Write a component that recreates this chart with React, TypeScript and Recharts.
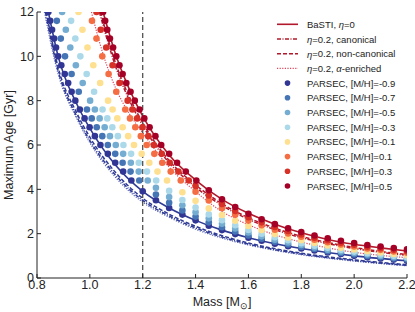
import React from 'react';
import { ComposedChart, Line, Scatter, XAxis, YAxis, ReferenceLine, Label } from 'recharts';

const FONT = '"Liberation Sans", Arial, sans-serif';

// axis ticks
const massTicks = [0.8, 1.0, 1.2, 1.4, 1.6, 1.8, 2.0, 2.2];
const ageTicks = [0, 2, 4, 6, 8, 10, 12];

// BaSTI tracks, [mass, max age]
const bastiPoorEta0 = [[0.843, 12], [0.88, 10.0], [0.95, 7.86], [1.0, 6.75], [1.1, 5.05], [1.2, 3.91], [1.3, 3.16], [1.4, 2.6], [1.5, 2.16], [1.6, 1.82], [1.8, 1.33], [2.0, 1.0], [2.2, 0.78]];
const bastiPoorCanonical = [[0.832, 12], [0.88, 9.35], [0.95, 7.3], [1.0, 6.2], [1.1, 4.6], [1.2, 3.5], [1.3, 2.8], [1.4, 2.26], [1.5, 1.85], [1.6, 1.53], [1.8, 1.08], [2.0, 0.79], [2.2, 0.57]];
const bastiPoorNonCanonical = [[0.835, 12], [0.88, 9.5], [0.95, 7.45], [1.0, 6.35], [1.1, 4.72], [1.2, 3.6], [1.3, 2.88], [1.4, 2.33], [1.5, 1.91], [1.6, 1.58], [1.8, 1.12], [2.0, 0.82], [2.2, 0.6]];
const bastiPoorAlpha = [[0.828, 12], [0.88, 9.2], [0.95, 7.2], [1.0, 6.1], [1.1, 4.5], [1.2, 3.42], [1.3, 2.74], [1.4, 2.2], [1.5, 1.8], [1.6, 1.49], [1.8, 1.05], [2.0, 0.76], [2.2, 0.55]];
const bastiRichEta0 = [[1.05, 12], [1.1, 10.0], [1.15, 8.5], [1.2, 7.3], [1.3, 5.55], [1.4, 4.42], [1.5, 3.55], [1.6, 2.92], [1.7, 2.43], [1.8, 2.04], [1.9, 1.74], [2.0, 1.52], [2.1, 1.36], [2.2, 1.22]];
const bastiRichCanonical = [[1.036, 12], [1.1, 9.45], [1.15, 8.0], [1.2, 6.88], [1.3, 5.2], [1.4, 4.1], [1.5, 3.27], [1.6, 2.65], [1.7, 2.18], [1.8, 1.82], [1.9, 1.55], [2.0, 1.33], [2.1, 1.16], [2.2, 1.02]];
const bastiRichNonCanonical = [[1.04, 12], [1.1, 9.6], [1.15, 8.15], [1.2, 7.0], [1.3, 5.3], [1.4, 4.2], [1.5, 3.35], [1.6, 2.72], [1.7, 2.25], [1.8, 1.88], [1.9, 1.6], [2.0, 1.38], [2.1, 1.2], [2.2, 1.06]];
const bastiRichAlpha = [[1.006, 12], [1.05, 10.1], [1.1, 8.5], [1.15, 7.4], [1.2, 6.55], [1.3, 5.0], [1.4, 3.9], [1.5, 3.0], [1.6, 2.4], [1.7, 1.95], [1.8, 1.62], [1.9, 1.36], [2.0, 1.16], [2.1, 1.02], [2.2, 0.92]];

// PARSEC: upper part sits on age rows, lower part on mass columns (null = no dot)
const ageRows = [12.0, 11.6, 11.2, 10.8, 10.4, 10.0, 9.6, 9.2, 8.8, 8.4, 8.0, 7.6, 7.2, 6.8, 6.4, 6.0, 5.6, 5.2, 4.8, 4.4];
const massRowsM09 = [0.843, 0.850, 0.857, 0.865, 0.872, 0.880, 0.892, 0.905, 0.918, 0.931, 0.945, 0.962, 0.980, 0.999, 1.019, 1.040, 1.068, 1.096, 1.126, 1.157];
const massRowsM07 = [null, 0.875, null, 0.890, null, 0.906, null, 0.931, null, 0.958, null, 0.989, 1.007, 1.026, 1.047, 1.068, 1.096, 1.124, 1.154, 1.187];
const massRowsM05 = [0.895, null, 0.909, null, 0.926, null, 0.947, null, 0.973, null, 1.001, 1.019, 1.037, 1.056, 1.076, 1.098, 1.126, 1.155, 1.185, 1.219];
const massRowsM03 = [null, 0.929, null, 0.945, null, 0.964, null, 0.988, null, 1.016, null, 1.048, 1.066, 1.085, 1.106, 1.127, 1.156, 1.185, 1.216, 1.251];
const massRowsM01 = [0.957, null, 0.972, null, 0.991, null, 1.013, null, 1.039, null, 1.069, 1.086, 1.104, 1.124, 1.145, 1.167, 1.196, 1.225, 1.256, 1.292];
const massRowsP01 = [null, 1.008, null, 1.025, null, 1.047, null, 1.071, null, 1.100, null, 1.134, 1.152, 1.172, 1.193, 1.215, 1.244, 1.274, 1.306, 1.344];
const massRowsP03 = [1.025, null, 1.041, null, 1.062, null, 1.086, null, 1.112, null, 1.143, 1.161, 1.179, 1.199, 1.221, 1.242, 1.272, 1.302, 1.335, 1.374];
const massRowsP05 = [1.050, 1.058, 1.066, 1.076, 1.088, 1.100, 1.112, 1.124, 1.138, 1.154, 1.170, 1.188, 1.206, 1.226, 1.248, 1.270, 1.300, 1.330, 1.363, 1.403];

const massCols = [1.20, 1.25, 1.30, 1.35, 1.40, 1.45, 1.50, 1.55, 1.60, 1.65, 1.70, 1.75, 1.80, 1.85, 1.90, 1.95, 2.00, 2.05, 2.10, 2.15, 2.20];
const ageColsM09 = [3.91, 3.51, 3.16, 2.86, 2.60, 2.36, 2.16, 1.98, 1.82, 1.68, 1.55, 1.43, 1.33, 1.24, 1.15, 1.08, 1.00, 0.94, 0.88, 0.83, 0.78];
const ageColsM07 = [null, 3.77, 3.39, 3.05, 2.77, 2.51, 2.29, 2.10, 1.92, 1.77, 1.64, 1.51, 1.40, 1.31, 1.21, 1.13, 1.06, 0.99, 0.94, 0.88, 0.83];
const ageColsM05 = [null, 4.07, 3.65, 3.28, 2.97, 2.69, 2.45, 2.23, 2.05, 1.88, 1.73, 1.60, 1.49, 1.38, 1.28, 1.20, 1.13, 1.06, 0.99, 0.94, 0.89];
const ageColsM03 = [null, null, 3.93, 3.52, 3.18, 2.87, 2.61, 2.38, 2.17, 2.00, 1.84, 1.70, 1.57, 1.46, 1.36, 1.27, 1.19, 1.12, 1.06, 1.00, 0.94];
const ageColsM01 = [null, null, null, 3.87, 3.48, 3.14, 2.84, 2.58, 2.35, 2.16, 1.98, 1.83, 1.70, 1.58, 1.47, 1.37, 1.29, 1.21, 1.15, 1.08, 1.03];
const ageColsP01 = [null, null, null, null, 3.89, 3.50, 3.15, 2.85, 2.59, 2.38, 2.18, 2.01, 1.86, 1.73, 1.61, 1.51, 1.42, 1.33, 1.27, 1.20, 1.14];
const ageColsP03 = [null, null, null, null, 4.15, 3.72, 3.34, 3.02, 2.74, 2.51, 2.30, 2.12, 1.96, 1.82, 1.70, 1.59, 1.50, 1.41, 1.34, 1.27, 1.21];
const ageColsP05 = [null, null, null, null, null, 3.96, 3.55, 3.20, 2.90, 2.65, 2.43, 2.24, 2.07, 1.92, 1.79, 1.68, 1.58, 1.49, 1.42, 1.35, 1.29];

const RED = '#b2182b';
const RED_LIGHT = '#d9475e';
const BLUE = '#2e3a94';
const BLUE_LIGHT = '#5b66bb';

const bastiLines = [
  { pts: bastiPoorAlpha, color: BLUE_LIGHT, dash: '1.2 1.4', w: 1.2 },
  { pts: bastiPoorCanonical, color: BLUE, dash: '4 1.5 1 1.5', w: 1.5 },
  { pts: bastiPoorNonCanonical, color: BLUE, dash: '4 2', w: 1.5 },
  { pts: bastiPoorEta0, color: BLUE, dash: undefined, w: 1.6 },
  { pts: bastiRichAlpha, color: RED_LIGHT, dash: '1.2 1.4', w: 1.2 },
  { pts: bastiRichCanonical, color: RED, dash: '4 1.5 1 1.5', w: 1.5 },
  { pts: bastiRichNonCanonical, color: RED, dash: '4 2', w: 1.5 },
  { pts: bastiRichEta0, color: RED, dash: undefined, w: 1.6 },
];

const parsec = [
  { mh: '-0.9', color: '#313695', rows: massRowsM09, cols: ageColsM09 },
  { mh: '-0.7', color: '#4575b4', rows: massRowsM07, cols: ageColsM07 },
  { mh: '-0.5', color: '#74add1', rows: massRowsM05, cols: ageColsM05 },
  { mh: '-0.3', color: '#abd9e9', rows: massRowsM03, cols: ageColsM03 },
  { mh: '-0.1', color: '#fee090', rows: massRowsM01, cols: ageColsM01 },
  { mh: '0.1', color: '#f46d43', rows: massRowsP01, cols: ageColsP01 },
  { mh: '0.3', color: '#d73027', rows: massRowsP03, cols: ageColsP03 },
  { mh: '0.5', color: '#a50026', rows: massRowsP05, cols: ageColsP05 },
];

const toPts = (arr: number[][]) => arr.map(([mass, age]) => ({ mass, age }));

const parsecPts = (rows: (number | null)[], cols: (number | null)[]) => [
  ...ageRows.map((age, i) => ({ mass: rows[i], age })).filter((p) => p.mass != null),
  ...massCols.map((mass, i) => ({ mass, age: cols[i] })).filter((p) => p.age != null),
];

const dotShape = (color: string) => (p: any) => <circle cx={p.cx} cy={p.cy} r={3.3} fill={color} />;

const tickStyle = { fontSize: 12.5, fill: '#222', fontFamily: FONT };

const XTitle = ({ viewBox }: any) => (
  <text x={viewBox.x + viewBox.width / 2} y={305.5} textAnchor="middle" fontSize={12.5} fontFamily={FONT} fill="#222">
    Mass [M<tspan fontSize={9} dy={3}>⊙</tspan><tspan dy={-3}>]</tspan>
  </text>
);

const YTitle = ({ viewBox }: any) => {
  const cy = viewBox.y + viewBox.height / 2;
  return (
    <text x={12.5} y={cy} transform={`rotate(-90, 12.5, ${cy})`} textAnchor="middle" fontSize={12.5} fontFamily={FONT} fill="#222">
      Maximum Age [Gyr]
    </text>
  );
};

const legendLines = [
  { label: <>BaSTI, <tspan fontStyle="italic">η</tspan>=0</>, color: RED, dash: undefined, w: 1.6 },
  { label: <><tspan fontStyle="italic">η</tspan>=0.2, canonical</>, color: RED, dash: '4 1.5 1 1.5', w: 1.5 },
  { label: <><tspan fontStyle="italic">η</tspan>=0.2, non-canonical</>, color: RED, dash: '4 2', w: 1.5 },
  { label: <><tspan fontStyle="italic">η</tspan>=0.2, <tspan fontStyle="italic">α</tspan>-enriched</>, color: RED_LIGHT, dash: '1.2 1.4', w: 1.2 },
];

const LegendOverlay = () => {
  const y0 = 24.3;
  const step = 14.7;
  return (
    <svg width={415} height={312} style={{ position: 'absolute', left: 0, top: 0, pointerEvents: 'none' }}>
      {legendLines.map((l, i) => (
        <g key={i}>
          <line x1={277} x2={298} y1={y0 + i * step} y2={y0 + i * step} stroke={l.color} strokeWidth={l.w} strokeDasharray={l.dash} />
          <text x={307} y={y0 + i * step} dominantBaseline="central" fontSize={9.5} fontFamily={FONT} fill="#222">{l.label}</text>
        </g>
      ))}
      {parsec.map((s, j) => {
        const y = y0 + (j + 4) * step;
        return (
          <g key={s.mh}>
            <circle cx={287.5} cy={y} r={2.8} fill={s.color} />
            <text x={307} y={y} dominantBaseline="central" fontSize={9.5} fontFamily={FONT} fill="#222">PARSEC, [M/H]={s.mh}</text>
          </g>
        );
      })}
    </svg>
  );
};

export default function App() {
  return (
    <div style={{ position: 'absolute', left: 0, top: 0, width: 415, height: 312, background: '#fff' }}>
      <ComposedChart width={415} height={312} margin={{ top: 12, right: 8, bottom: 0, left: 0 }}>
        <XAxis
          xAxisId="b" dataKey="mass" type="number" domain={[0.8, 2.2]} ticks={massTicks} interval={0} allowDataOverflow
          height={34} tickSize={-4} tickMargin={6} tick={tickStyle} tickFormatter={(v: number) => v.toFixed(1)}
          stroke="#222" tickLine={{ stroke: '#222' }}
        >
          <Label content={<XTitle />} />
        </XAxis>
        <XAxis
          xAxisId="t" orientation="top" dataKey="mass" type="number" domain={[0.8, 2.2]} ticks={massTicks} interval={0}
          height={0} tickSize={-4} tick={false} stroke="#222"
        />
        <YAxis
          yAxisId="l" dataKey="age" type="number" domain={[0, 12]} ticks={ageTicks} interval={0} allowDataOverflow
          width={37} tickSize={-4} tickMargin={7} tick={tickStyle} stroke="#222"
        >
          <Label content={<YTitle />} />
        </YAxis>
        <YAxis
          yAxisId="r" orientation="right" dataKey="age" type="number" domain={[0, 12]} ticks={ageTicks} interval={0}
          width={0} tickSize={-4} tick={false} stroke="#222"
        />
        {bastiLines.map((l, i) => (
          <Line
            key={i} xAxisId="b" yAxisId="l" data={toPts(l.pts)} dataKey="age" type="monotone"
            stroke={l.color} strokeWidth={l.w} strokeDasharray={l.dash} dot={false} activeDot={false}
            isAnimationActive={false}
          />
        ))}
        {parsec.map((s) => (
          <Scatter
            key={s.mh} xAxisId="b" yAxisId="l" data={parsecPts(s.rows, s.cols)} dataKey="age"
            fill={s.color} shape={dotShape(s.color)} isAnimationActive={false}
          />
        ))}
        <ReferenceLine xAxisId="b" yAxisId="l" x={1.2} stroke="#444" strokeWidth={1.2} strokeDasharray="5 3" />
      </ComposedChart>
      <LegendOverlay />
    </div>
  );
}
